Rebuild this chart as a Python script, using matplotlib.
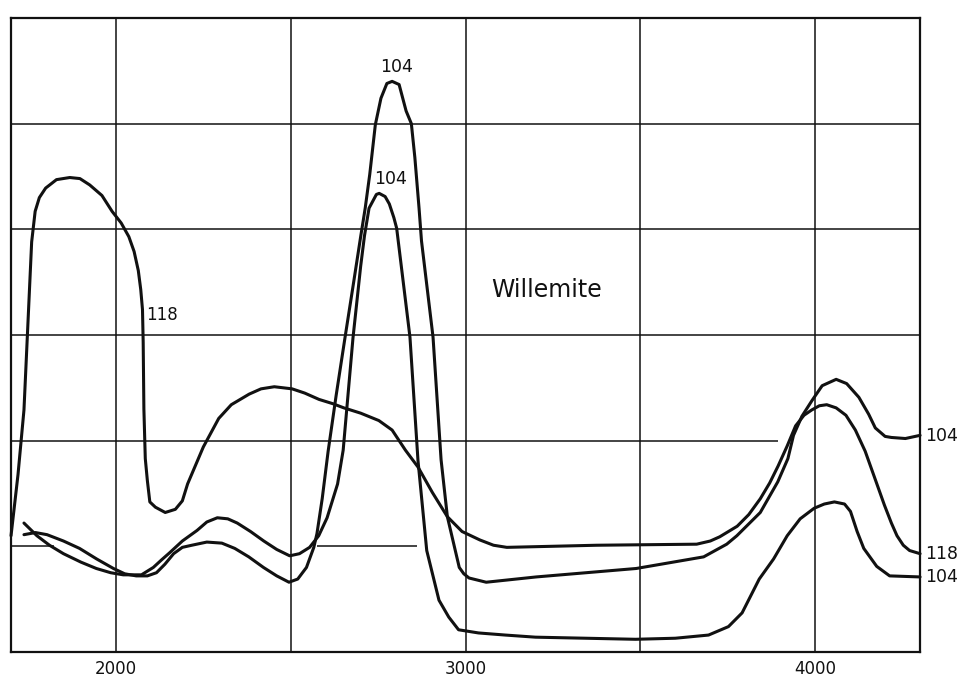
import matplotlib
matplotlib.use("Agg")
import matplotlib.pyplot as plt

# wavelength (A) vs. intensity, willemite luminescence curves
wl_118 = [1700, 1720, 1737, 1750, 1759, 1769, 1781, 1799, 1830, 1868,
          1897, 1925, 1960, 1989, 2015, 2037, 2052, 2064, 2071, 2076,
          2078, 2080, 2084, 2090, 2097, 2113, 2141, 2170, 2190, 2205,
          2250, 2294, 2330, 2381, 2415, 2453, 2504, 2540, 2581, 2620,
          2652, 2700, 2752, 2790, 2828, 2864, 2905, 2948, 2990, 3041,
          3080, 3118, 3375, 3661, 3700, 3727, 3777, 3810, 3843, 3870,
          3894, 3920, 3944, 3968, 3990, 4012, 4033, 4060, 4088, 4115,
          4143, 4170, 4198, 4218, 4234, 4252, 4270, 4300]
int_118 = [11.0, 16.8, 22.9, 32.3, 38.8, 41.7, 43.0, 43.9, 44.7, 44.9,
           44.8, 44.2, 43.2, 41.7, 40.6, 39.3, 37.9, 36.1, 34.3, 32.4,
           29.3, 23.0, 18.3, 16.2, 14.2, 13.7, 13.2, 13.5, 14.3, 15.9,
           19.4, 22.1, 23.4, 24.4, 24.9, 25.1, 24.9, 24.5, 23.9, 23.5,
           23.1, 22.6, 21.9, 21.0, 19.1, 17.5, 15.1, 12.8, 11.4, 10.6,
           10.1, 9.9, 10.1, 10.2, 10.5, 10.9, 11.9, 13.0, 14.5, 16.0,
           17.6, 19.5, 21.4, 22.4, 22.9, 23.3, 23.4, 23.1, 22.4, 21.0,
           19.0, 16.5, 13.9, 12.2, 11.0, 10.1, 9.6, 9.3]

# 104, tall peak
wl_104a = [1737, 1770, 1803, 1850, 1896, 1945, 1993, 2025, 2058, 2090,
           2116, 2140, 2165, 2190, 2217, 2260, 2303, 2340, 2380, 2422,
           2460, 2495, 2520, 2545, 2566, 2575, 2590, 2607, 2630, 2655,
           2680, 2700, 2713, 2726, 2742, 2758, 2775, 2790, 2810, 2830,
           2845, 2855, 2867, 2874, 2907, 2930, 2948, 2982, 2995, 3010,
           3059, 3202, 3488, 3681, 3747, 3776, 3843, 3893, 3922, 3938,
           3962, 3991, 4020, 4060, 4090, 4125, 4153, 4172, 4200, 4218,
           4258, 4300]
int_104a = [11.1, 11.3, 11.1, 10.5, 9.8, 8.8, 7.9, 7.4, 7.2, 7.2,
            7.5, 8.3, 9.3, 9.9, 10.1, 10.4, 10.3, 9.8, 9.0, 8.0,
            7.2, 6.6, 6.9, 8.0, 9.9, 11.2, 14.5, 19.0, 24.3, 29.7,
            35.0, 39.3, 42.0, 45.2, 49.9, 52.4, 53.8, 54.0, 53.7, 51.2,
            50.0, 46.8, 42.0, 38.9, 29.8, 18.2, 12.8, 8.0, 7.4, 7.0,
            6.6, 7.1, 7.9, 9.0, 10.2, 11.0, 13.2, 16.1, 18.3, 20.5,
            22.3, 23.8, 25.2, 25.8, 25.4, 24.1, 22.5, 21.2, 20.4, 20.3,
            20.2, 20.5]

# 104, lower peak
wl_104b = [1737, 1774, 1810, 1850, 1900, 1944, 1985, 2021, 2073, 2107,
           2130, 2154, 2190, 2232, 2260, 2290, 2320, 2347, 2385, 2423,
           2460, 2497, 2525, 2554, 2580, 2604, 2634, 2650, 2678, 2700,
           2711, 2724, 2745, 2753, 2770, 2782, 2795, 2803, 2841, 2864,
           2889, 2924, 2952, 2980, 3037, 3114, 3200, 3486, 3600, 3695,
           3752, 3791, 3840, 3881, 3920, 3957, 3997, 4026, 4055, 4084,
           4101, 4120, 4139, 4176, 4213, 4300]
int_104b = [12.2, 11.0, 10.1, 9.3, 8.5, 7.9, 7.5, 7.3, 7.3, 8.0,
            8.7, 9.4, 10.5, 11.5, 12.3, 12.7, 12.6, 12.2, 11.4, 10.5,
            9.7, 9.1, 9.3, 9.9, 11.0, 12.7, 15.9, 19.1, 29.7, 36.5,
            39.4, 42.0, 43.3, 43.4, 43.1, 42.4, 41.1, 40.1, 29.8, 18.1,
            9.6, 4.9, 3.3, 2.1, 1.8, 1.6, 1.4, 1.2, 1.3, 1.6,
            2.4, 3.7, 6.9, 8.8, 11.0, 12.6, 13.6, 14.0, 14.2, 14.0,
            13.3, 11.4, 9.8, 8.1, 7.2, 7.1]

xticks = [2000, 3000, 4000]
xticklabels = ["2000", "3000", "4000"]

ink = "#111111"

fig = plt.figure(figsize=(9.59, 6.78), dpi=100)
ax = fig.add_axes([0.0115, 0.0384, 0.9479, 0.9351])
ax.set_xlim(1700, 4300)
ax.set_ylim(0, 60)

# ruled grid, the two lower rules are broken as on the plate
ax.set_xticks(xticks)
ax.set_xticklabels(xticklabels, fontsize=12, color=ink)
ax.set_xticks([2500, 3500], minor=True)
ax.set_yticks([])
ax.tick_params(axis="x", which="both", length=0, pad=5.5)
ax.grid(axis="x", which="both", color=ink, lw=1.1, zorder=1)
ax.hlines([30, 40, 50], 1700, 4300, color=ink, lw=1.1, zorder=1)
ax.hlines(20, 1700, 3895, color=ink, lw=1.1, zorder=1)
ax.hlines(10, 1700, 1822, color=ink, lw=1.1, zorder=1)
ax.hlines(10, 2575, 2860, color=ink, lw=1.1, zorder=1)
for s in ax.spines.values():
    s.set_linewidth(1.6)
    s.set_color(ink)

for wl, it in [(wl_118, int_118), (wl_104a, int_104a), (wl_104b, int_104b)]:
    ax.plot(wl, it, color=ink, lw=2.2, solid_joinstyle="round",
            solid_capstyle="round", zorder=3, clip_on=False)

ax.text(2802, 55.4, "104", ha="center", va="center", fontsize=12.5, color=ink)
ax.text(2786, 44.8, "104", ha="center", va="center", fontsize=12.5, color=ink)
ax.text(2133, 31.9, "118", ha="center", va="center", fontsize=12, color=ink)
ax.text(3232, 34.3, "Willemite", ha="center", va="center", fontsize=17, color=ink)

# curve labels at the right margin
ax.text(4315, 20.4, "104", ha="left", va="center", fontsize=12.5, color=ink, clip_on=False)
ax.text(4315, 9.3, "118", ha="left", va="center", fontsize=12.5, color=ink, clip_on=False)
ax.text(4315, 7.1, "104", ha="left", va="center", fontsize=12.5, color=ink, clip_on=False)

plt.savefig("out.png", dpi=100)
